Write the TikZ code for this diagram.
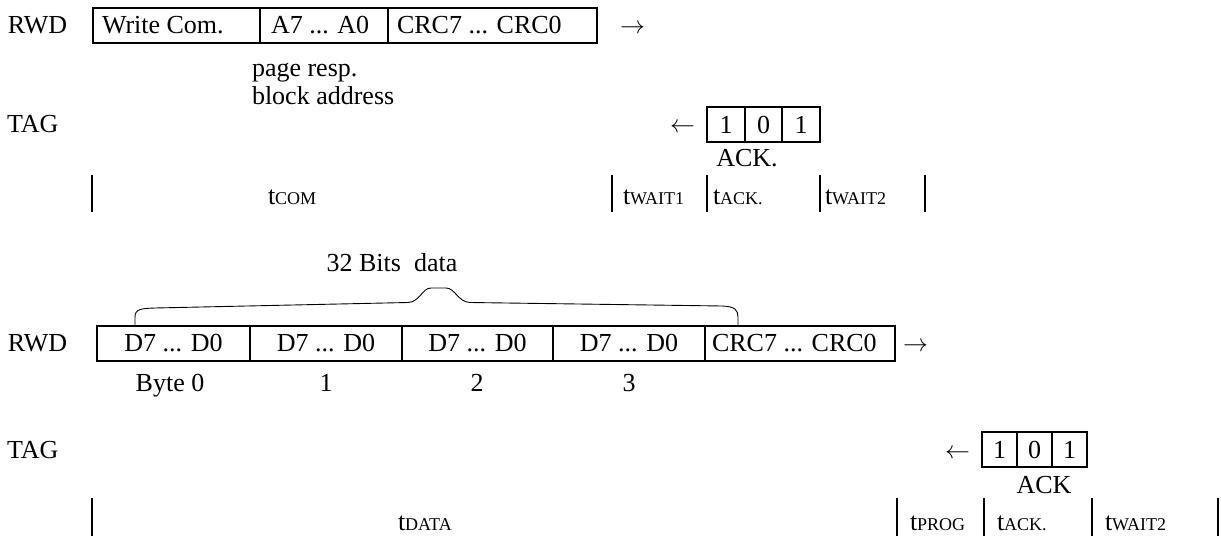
\documentclass[tikz,border=0pt]{standalone}
\usepackage{fontspec}
\setmainfont{Liberation Serif}
\newcommand\smallsub[1]{{\fontsize{18}{18}\selectfont #1}}
\begin{document}
\begin{tikzpicture}[x=1pt,y=-1pt,
  every node/.style={font=\fontsize{26}{30}\selectfont, inner sep=0pt, outer sep=0pt},
  cell/.style={draw, line width=1.6pt, minimum height=35pt, anchor=north west},
  lbl/.style={anchor=base west},
  clbl/.style={anchor=base},
  bar/.style={line width=2pt},
  bracestyle/.style={line width=0.9pt}]
\useasboundingbox (0,0) rectangle (1221,537);

% ---------- first block ----------
\node[lbl] (rwd1) at (8,34) {RWD};
\node[cell, minimum width=167pt] (wc) at (93,8) {};
\node[cell, minimum width=128pt] (ad) at (260,8) {};
\node[cell, minimum width=209pt] (crc1) at (388,8) {};
\node[lbl] (wct) at (102,34) {Write Com.};
\node[lbl] (adt) at (271,34) {A7 ... A0};
\node[lbl] (crct1) at (397,34) {CRC7 ... CRC0};
\node[lbl] (ar1) at (620,34) {$\rightarrow$};
\node[lbl] (pr) at (252,77) {page resp.};
\node[lbl] (ba) at (252,105) {block address};

\node[lbl] (tag1) at (7,133) {TAG};
\node[lbl] (al1) at (670,133) {$\leftarrow$};
\node[cell, minimum width=38pt] (a1) at (707,107) {};
\node[cell, minimum width=37pt] (a2) at (745,107) {};
\node[cell, minimum width=38pt] (a3) at (782,107) {};
\node at (a1.center) {1};
\node at (a2.center) {0};
\node at (a3.center) {1};
\node[clbl] (ack1) at (747,167) {ACK.};

\draw[bar] (92,175) -- (92,212);
\draw[bar] (612,175) -- (612,212);
\draw[bar] (707,175) -- (707,212);
\draw[bar] (820,175) -- (820,212);
\draw[bar] (925,175) -- (925,212);
\node[lbl] (tcom) at (268,205) {t\smallsub{COM}};
\node[lbl] (tw1) at (623,205) {t\smallsub{WAIT1}};
\node[lbl] (tack1) at (713,205) {t\smallsub{ACK.}};
\node[lbl] (tw2a) at (825,205) {t\smallsub{WAIT2}};

% ---------- second block ----------
\node[clbl] (bits) at (392,272) {32 Bits~~data};
\draw[bracestyle] (135,326) -- (135,317) .. controls (135,309) and (141,308.5) .. (155,308)
  -- (408,302.5) .. controls (420,302) and (422,288) .. (431,288)
  -- (446,288) .. controls (455,288) and (458,302) .. (470,302.5)
  -- (722,306) .. controls (735,306.5) and (738,310) .. (738,317) -- (738,326);

\node[lbl] (rwd2) at (8,352) {RWD};
\node[cell, minimum width=153pt] (d0) at (97,326) {};
\node[cell, minimum width=152pt] (d1) at (250,326) {};
\node[cell, minimum width=151pt] (d2) at (402,326) {};
\node[cell, minimum width=152pt] (d3) at (553,326) {};
\node[cell, minimum width=190pt] (crc2) at (705,326) {};
\node[clbl] (d0t) at (173.5,352) {D7 ... D0};
\node[clbl] (d1t) at (326,352) {D7 ... D0};
\node[clbl] (d2t) at (477.5,352) {D7 ... D0};
\node[clbl] (d3t) at (629,352) {D7 ... D0};
\node[lbl] (crct2) at (712,352) {CRC7 ... CRC0};
\node[lbl] (ar2) at (903,352) {$\rightarrow$};
\node[clbl] (b0) at (170,391) {Byte 0};
\node[clbl] (b1) at (326,391) {1};
\node[clbl] (b2) at (477,391) {2};
\node[clbl] (b3) at (629,391) {3};

\node[lbl] (tag2) at (7,458) {TAG};
\node[lbl] (al2) at (945,458) {$\leftarrow$};
\node[cell, minimum width=35pt] (k1) at (982,432) {};
\node[cell, minimum width=35pt] (k2) at (1017,432) {};
\node[cell, minimum width=35pt] (k3) at (1052,432) {};
\node at (k1.center) {1};
\node at (k2.center) {0};
\node at (k3.center) {1};
\node[clbl] (ack2) at (1044,493) {ACK};

\draw[bar] (92,498) -- (92,536);
\draw[bar] (897,498) -- (897,536);
\draw[bar] (984,498) -- (984,536);
\draw[bar] (1092,498) -- (1092,536);
\draw[bar] (1218,498) -- (1218,536);
\node[lbl] (tdata) at (398,530) {t\smallsub{DATA}};
\node[lbl] (tprog) at (910,530) {t\smallsub{PROG}};
\node[lbl] (tack2) at (997,530) {t\smallsub{ACK.}};
\node[lbl] (tw2b) at (1105,530) {t\smallsub{WAIT2}};
\end{tikzpicture}
\end{document}
